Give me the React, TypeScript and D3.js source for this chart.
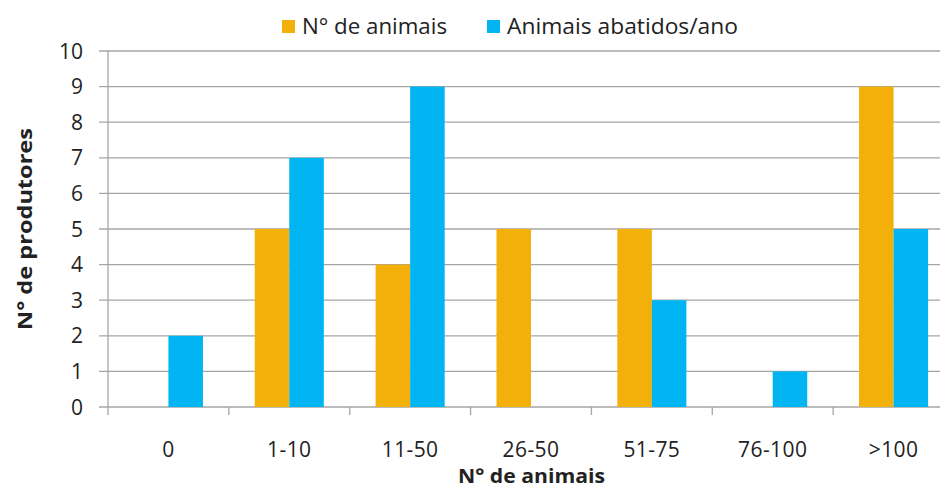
import React from "react";
import * as d3 from "d3";

const categories = ["0", "1-10", "11-50", "26-50", "51-75", "76-100", ">100"];
const numAnimais = [0, 5, 4, 5, 5, 0, 9];
const abatidosAno = [2, 7, 9, 0, 3, 1, 5];
const yTicks = [0, 1, 2, 3, 4, 5, 6, 7, 8, 9, 10];
const seriesNames = ["N° de animais", "Animais abatidos/ano"];
const seriesColors = ["#F4B00A", "#00B5F1"];

const W = 940;
const H = 490;
const margin = { left: 108, top: 51, right: -14, bottom: 83 };
const FONT = "'Open Sans', Lato, sans-serif";

export default function App() {
  const innerW = W - margin.left - margin.right;
  const y0 = H - margin.bottom;
  const x = d3
    .scaleBand<string>()
    .domain(categories)
    .range([margin.left, margin.left + innerW]);
  const y = d3.scaleLinear().domain([0, 10]).range([y0, margin.top]);
  const bw = x.bandwidth() / 3.5;
  const series = [numAnimais, abatidosAno];
  const right = margin.left + innerW;

  const legendX = [282, 487];
  const legendLen = [145, 231];

  return (
    <svg
      width={W}
      height={H}
      style={{ position: "absolute", left: 0, top: 0, background: "#fff" }}
      fontFamily={FONT}
    >
      {/* gridlines and y ticks */}
      {yTicks.map((t) => (
        <line
          key={"g" + t}
          x1={margin.left - 9}
          x2={right}
          y1={y(t)}
          y2={y(t)}
          stroke="#A6A6A6"
          strokeWidth={1.3}
        />
      ))}
      {yTicks.map((t) => (
        <text
          key={"yl" + t}
          x={83}
          y={y(t)}
          dy="0.36em"
          textAnchor="end"
          fontSize={21}
          fill="#222"
        >
          {t}
        </text>
      ))}
      {/* left axis */}
      <line x1={margin.left} x2={margin.left} y1={margin.top} y2={y0} stroke="#A6A6A6" strokeWidth={1.3} />
      {/* category boundary ticks */}
      {categories.map((c) => (
        <line
          key={"t" + c}
          x1={x(c)!}
          x2={x(c)!}
          y1={y0}
          y2={y0 + 8}
          stroke="#A6A6A6"
          strokeWidth={1.3}
        />
      ))}
      {/* bars */}
      {series.map((vals, si) =>
        vals.map((v, i) => {
          const cx = x(categories[i])! + x.bandwidth() / 2;
          const bx = si === 0 ? cx - bw : cx;
          return v > 0 ? (
            <rect
              key={`b${si}-${i}`}
              x={bx}
              y={y(v)}
              width={bw}
              height={y0 - y(v)}
              fill={seriesColors[si]}
            />
          ) : null;
        })
      )}
      {/* x labels */}
      {categories.map((c) => (
        <text
          key={"xl" + c}
          x={x(c)! + x.bandwidth() / 2}
          y={457}
          textAnchor="middle"
          fontSize={21}
          letterSpacing={0.4}
          fill="#222"
        >
          {c}
        </text>
      ))}
      {/* axis titles */}
      <text
        x={458}
        y={483}
        fontSize={20}
        fontWeight="bold"
        fill="#222"
        textLength={147}
        lengthAdjust="spacingAndGlyphs"
      >
        N° de animais
      </text>
      <text
        transform={`translate(32, 330) rotate(-90)`}
        fontSize={20}
        fontWeight="bold"
        fill="#222"
        textLength={202}
        lengthAdjust="spacingAndGlyphs"
      >
        N° de produtores
      </text>
      {/* legend */}
      {seriesNames.map((n, i) => (
        <g key={"lg" + i}>
          <rect x={legendX[i]} y={20} width={13} height={13} fill={seriesColors[i]} />
          <text
            x={legendX[i] + 20}
            y={34}
            fontSize={21}
            fill="#222"
            textLength={legendLen[i]}
            lengthAdjust="spacingAndGlyphs"
          >
            {n}
          </text>
        </g>
      ))}
    </svg>
  );
}
